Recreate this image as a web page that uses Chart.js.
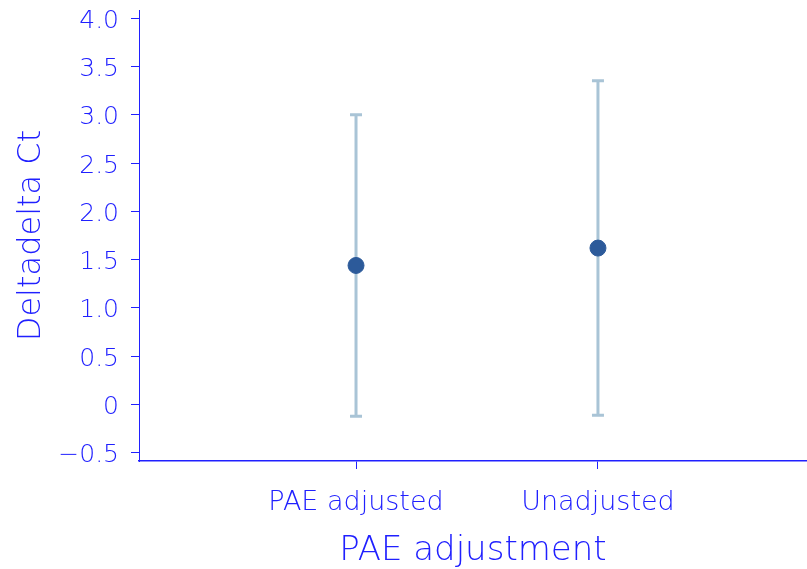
<!DOCTYPE html>
<html>
<head>
<meta charset="utf-8">
<script src="https://cdn.jsdelivr.net/npm/chart.js@4"></script>
<style>
  html, body { margin: 0; padding: 0; background: #fff; }
  #wrap { width: 807px; height: 569px; }
</style>
</head>
<body>
<div id="wrap"><canvas id="chart" width="807" height="569"></canvas></div>
<script>
// data
const categories = ['PAE adjusted', 'Unadjusted'];
const means = [1.44, 1.62];
const lower = [-0.12, -0.11];
const upper = [3.0, 3.35];
const yTicks = [-0.5, 0, 0.5, 1.0, 1.5, 2.0, 2.5, 3.0, 3.5, 4.0];
const yTickLabels = ['\u22120.5', '0', '0.5', '1.0', '1.5', '2.0', '2.5', '3.0', '3.5', '4.0'];

const blue = '#2020ff';
const font = 'DejaVu Sans';

const errorBars = {
    id: 'errorBars',
    beforeDatasetsDraw(chart) {
        const { ctx, scales: { x, y } } = chart;
        ctx.save();
        ctx.strokeStyle = '#a9c4d6';
        ctx.lineWidth = 3;
        means.forEach((m, i) => {
            const px = x.getPixelForValue(i + 1);
            const top = y.getPixelForValue(upper[i]);
            const bot = y.getPixelForValue(lower[i]);
            ctx.beginPath();
            ctx.moveTo(px, top); ctx.lineTo(px, bot);
            ctx.moveTo(px - 6, top); ctx.lineTo(px + 6, top);
            ctx.moveTo(px - 6, bot); ctx.lineTo(px + 6, bot);
            ctx.stroke();
        });
        ctx.restore();
    }
};

new Chart(document.getElementById('chart'), {
    type: 'scatter',
    data: {
        datasets: [{
            data: means.map((m, i) => ({ x: i + 1, y: m })),
            backgroundColor: '#2c5a9a',
            borderColor: '#2c5a9a',
            pointRadius: 8,
            pointHoverRadius: 8
        }]
    },
    options: {
        responsive: false,
        animation: false,
        layout: { autoPadding: false, padding: { top: 10, right: 0, left: 0, bottom: 0 } },
        plugins: { legend: { display: false }, tooltip: { enabled: false } },
        scales: {
            x: {
                type: 'linear',
                min: 0.103,
                max: 2.864,
                afterBuildTicks: axis => { axis.ticks = [{ value: 1 }, { value: 2 }]; },
                afterFit: axis => {
                    axis.height = 108;
                    axis.paddingLeft = 0; axis.paddingRight = 0;
                },
                ticks: {
                    callback: v => categories[v - 1],
                    color: blue,
                    font: { family: font, size: 27, weight: 200 },
                    padding: 18,
                    maxRotation: 0,
                    autoSkip: false
                },
                grid: { drawOnChartArea: false, drawTicks: true, tickLength: 8, color: blue, lineWidth: 1 },
                border: { display: true, color: blue, width: 1.5 },
                title: {
                    display: true,
                    text: 'PAE adjustment',
                    color: blue,
                    font: { family: font, size: 34, weight: 200, lineHeight: 1.05 },
                    padding: { top: 0, bottom: 0 }
                }
            },
            y: {
                type: 'linear',
                min: -0.583,
                max: 4.083,
                afterBuildTicks: axis => { axis.ticks = yTicks.map(v => ({ value: v })); },
                afterFit: axis => {
                    axis.width = 139;
                    axis.paddingTop = 0; axis.paddingBottom = 0;
                },
                ticks: {
                    callback: (v, i) => yTickLabels[i],
                    color: blue,
                    font: { family: font, size: 25, weight: 200 },
                    padding: 12,
                    labelOffset: 3,
                    autoSkip: false
                },
                grid: { drawOnChartArea: false, drawTicks: true, tickLength: 8, color: blue, lineWidth: 1 },
                border: { display: true, color: blue, width: 1 },
                title: {
                    display: true,
                    text: 'Deltadelta Ct',
                    color: blue,
                    font: { family: font, size: 32, weight: 200 },
                    padding: { top: 12, bottom: 0 }
                }
            }
        }
    },
    plugins: [errorBars]
});
</script>
</body>
</html>
